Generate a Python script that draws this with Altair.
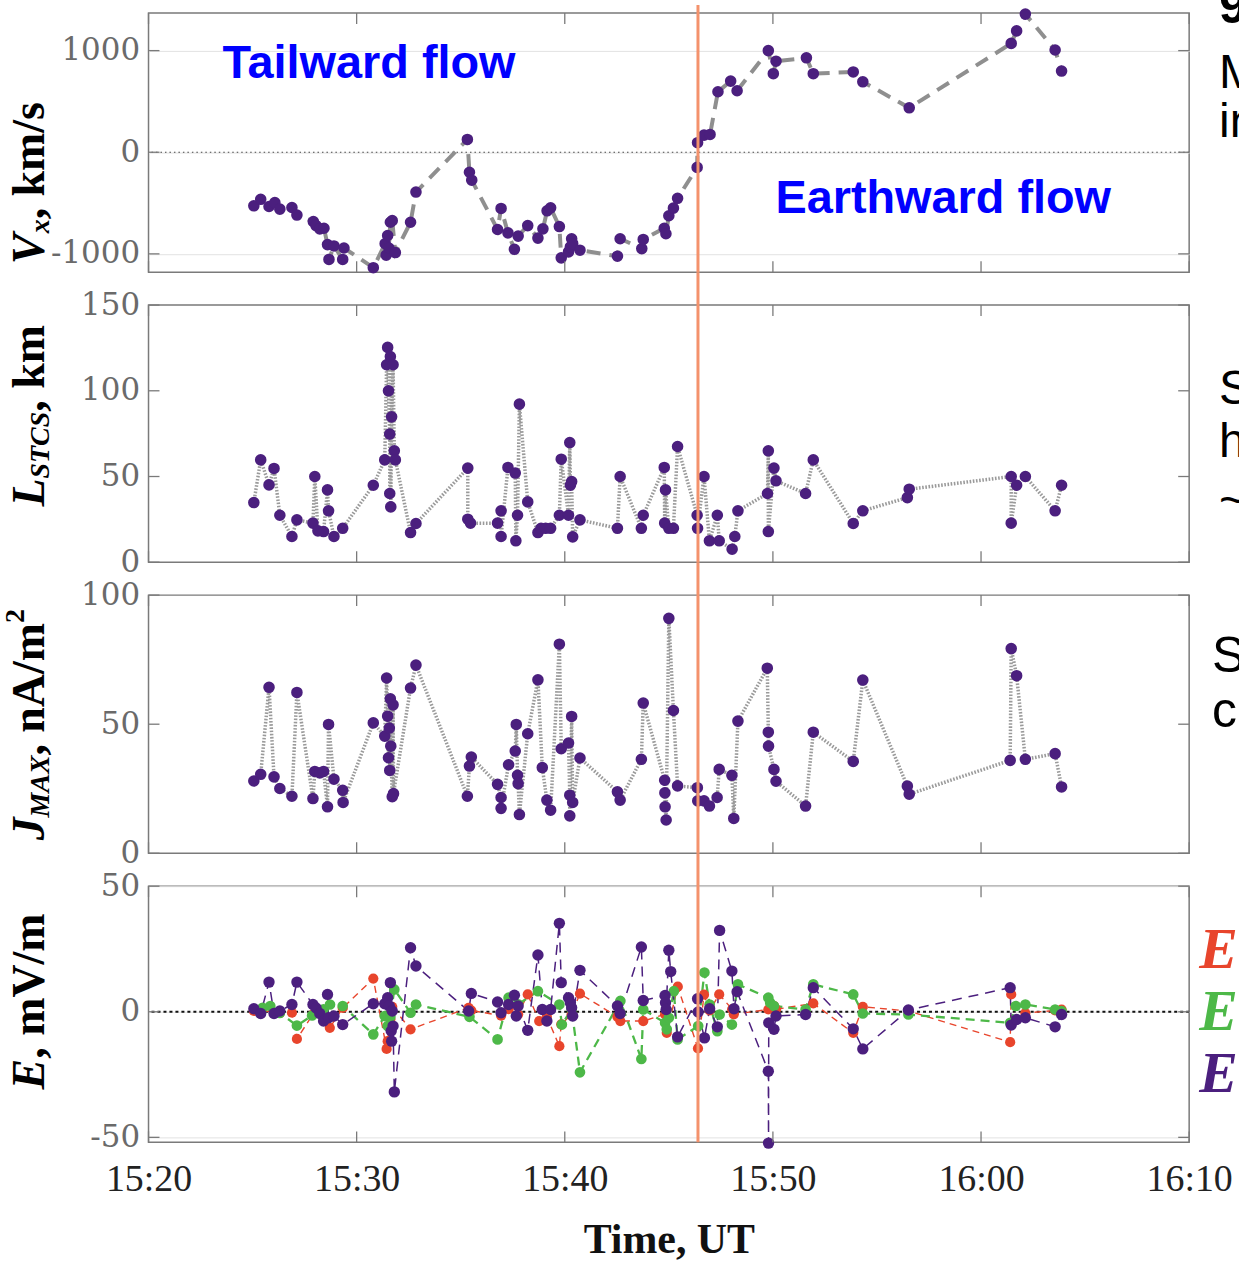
import altair as alt
import pandas as pd

# ---------------- data (time = minutes after 15:20 UT) ----------------
VX_T = [5.06,5.39,5.79,6.07,6.31,6.89,7.13,7.92,8.05,8.23,8.43,8.60,8.67,8.91,9.33,9.39,10.80,11.37,11.42,11.49,
        11.55,11.62,11.71,11.86,12.59,12.85,15.32,15.42,15.53,16.77,16.94,17.27,17.58,17.76,18.22,18.71,18.95,19.15,19.32,19.74,
        19.83,20.18,20.27,20.33,20.38,20.73,22.53,22.66,23.70,23.77,24.78,24.86,25.00,25.22,25.42,26.36,26.38,26.69,26.98,27.36,
        27.97,28.28,29.78,30.02,30.15,31.61,31.94,33.86,34.32,36.55,41.45,41.71,42.13,43.56,43.87]
VX_V = [-527,-463,-534,-495,-560,-544,-618,-683,-722,-754,-748,-909,-1055,-922,-1055,-942,-1136,-900,-1013,-819,
        -942,-689,-673,-987,-689,-392,126,-197,-275,-760,-553,-793,-955,-825,-722,-845,-754,-576,-547,-731,
        -1039,-981,-932,-851,-900,-964,-1023,-851,-948,-858,-748,-802,-625,-550,-453,-149,94,168,175,595,
        700,605,1000,773,896,929,773,790,693,437,1071,1194,1359,1006,799]

L_T = [5.06,5.39,5.79,6.03,6.31,6.89,7.13,7.90,7.99,8.14,8.41,8.60,8.65,8.91,9.33,10.80,11.35,11.44,11.49,11.53,
       11.59,11.59,11.62,11.64,11.68,11.75,11.81,11.86,12.59,12.85,15.34,15.34,15.47,16.77,16.94,16.94,17.27,17.62,17.65,17.73,
       17.82,18.22,18.71,18.86,19.08,19.32,19.74,19.83,20.18,20.24,20.27,20.33,20.38,20.73,22.53,22.66,23.68,23.77,24.78,24.80,
       24.84,25.00,25.22,25.42,26.36,26.38,26.69,26.95,27.33,27.42,28.04,28.17,28.32,29.74,29.78,29.78,30.05,30.15,31.57,31.94,
       33.86,34.32,36.46,36.55,41.45,41.45,41.71,42.13,43.56,43.87]
L_V = [34.8,59.7,45.1,54.7,27.4,15.0,24.7,22.8,50.0,18.3,17.9,42.2,30.0,15.0,19.8,44.9,59.7,115.2,125.3,100.0,
       74.7,40.1,120.0,32.3,84.8,115.2,65.0,59.7,17.3,22.6,54.9,25.1,22.8,22.8,30.0,15.0,55.3,52.0,12.5,27.4,
       92.2,35.2,17.3,19.8,19.8,19.8,27.4,60.1,27.4,69.8,44.9,47.1,14.8,24.7,19.8,50.0,19.8,27.4,55.3,22.8,
       42.2,19.8,19.8,67.5,27.4,19.8,50.0,12.5,27.4,12.5,7.6,15.0,30.0,40.1,65.0,17.9,54.9,47.5,40.1,59.7,
       22.6,30.0,37.7,42.6,50.0,22.8,44.9,50.0,30.0,44.9]

J_T = [5.06,5.39,5.79,6.03,6.31,6.89,7.13,7.90,7.99,8.23,8.41,8.60,8.65,8.91,9.33,9.35,10.80,11.35,11.44,11.49,
       11.53,11.57,11.59,11.62,11.64,11.71,11.75,11.77,12.59,12.85,15.32,15.42,15.51,16.77,16.94,16.94,17.30,17.62,17.67,17.73,
       17.76,17.82,18.22,18.71,18.92,19.14,19.32,19.74,19.83,20.18,20.24,20.24,20.33,20.38,20.73,22.53,22.66,23.68,23.77,24.80,
       24.81,24.82,24.87,25.00,25.22,25.42,26.37,26.39,26.69,26.95,27.32,27.42,28.03,28.12,28.32,29.73,29.78,29.79,30.05,30.15,
       31.57,31.94,33.86,34.32,36.46,36.55,41.40,41.45,41.71,42.13,43.56,43.87]
J_V = [28.0,30.6,64.3,29.6,25.1,22.1,62.3,21.2,31.7,31.1,31.7,18.0,49.9,28.7,24.4,19.7,50.5,45.4,67.9,53.1,
       37.0,48.5,32.1,59.8,41.5,21.9,57.5,23.1,64.0,72.9,22.1,33.8,37.3,26.7,21.6,17.4,34.3,39.6,49.9,30.2,
       27.0,15.0,46.3,67.2,33.2,20.6,16.7,81.0,40.5,42.7,22.5,14.5,53.0,19.7,36.9,23.8,20.6,36.4,58.2,28.3,
       23.4,18.0,12.9,91.0,55.3,26.1,25.4,20.3,20.3,18.3,21.6,32.5,30.2,13.5,51.2,71.7,46.9,41.5,32.5,27.9,
       18.3,46.9,35.6,67.1,26.0,22.9,36.0,79.3,68.8,36.4,38.6,25.7]

EX_T = [5.06,5.39,6.31,6.89,7.13,7.90,8.41,8.71,9.33,10.80,11.44,11.49,11.62,11.71,12.59,15.38,15.51,16.94,17.30,17.76,
        18.22,18.77,19.14,19.74,19.83,20.33,20.73,22.53,22.67,23.77,24.82,24.90,25.43,26.40,26.69,26.96,27.42,28.04,28.12,29.78,
        30.05,30.15,31.94,33.86,34.32,36.51,41.40,41.45,42.13,43.56,43.87]
EX_V = [0.3,0.5,-0.5,-0.4,-10.8,-1.0,-2.0,-6.4,1.5,13.2,-14.8,-11.7,-3.0,2.0,-7.0,1.6,0.5,-1.5,1.0,-1.0,
        6.9,-3.7,-2.0,-13.7,-5.0,-1.0,7.2,-2.0,-3.7,-3.7,-1.0,-8.4,10.0,-14.6,6.8,0.5,6.9,1.0,-1.0,0.9,
        2.3,1.0,3.3,-8.4,2.0,0.3,-12.1,6.9,-0.5,0.5,0.9]

EY_T = [5.48,5.85,6.31,7.13,7.86,8.41,8.72,9.33,10.80,11.35,11.49,11.62,11.81,12.59,12.85,15.42,16.77,17.30,17.76,18.71,
        19.74,19.86,20.33,20.73,22.67,23.68,23.77,24.82,24.90,25.00,25.24,25.42,26.41,26.71,26.96,27.33,27.44,28.03,28.32,29.78,
        29.87,30.05,31.57,31.94,33.86,34.32,36.51,41.40,41.67,42.13,43.56,43.87]
EY_V = [1.6,2.3,-0.5,-5.5,-1.5,1.0,2.9,2.3,-9.0,-1.7,-5.7,-2.0,8.9,-0.4,2.9,-2.0,-11.0,5.6,3.0,8.2,
        2.9,-5.1,1.0,-24.1,4.3,-18.8,0.9,-4.4,-7.0,-2.4,8.2,-11.0,-5.7,15.6,2.9,-7.7,-1.1,-5.1,10.9,5.6,
        3.6,2.3,0.9,10.9,6.9,-0.7,-1.1,-4.4,2.3,2.9,0.9,0.3]

EZ_T = [5.06,5.39,5.79,6.03,6.31,6.89,7.13,7.90,8.05,8.23,8.41,8.60,8.65,8.91,9.33,10.80,11.35,11.49,11.57,11.62,
        11.66,11.68,11.71,11.75,11.81,12.59,12.85,15.38,15.51,16.77,16.94,17.30,17.58,17.67,17.76,18.22,18.71,18.92,19.14,19.32,
        19.74,19.83,20.18,20.27,20.33,20.38,20.73,22.53,22.66,23.68,23.77,24.82,24.84,24.87,25.00,25.09,25.42,26.38,26.41,26.71,
        26.96,27.33,27.44,28.03,28.13,28.28,29.78,29.79,29.80,30.05,30.15,31.57,31.94,33.86,34.32,36.51,41.40,41.45,41.71,42.13,
        43.56,43.87]
EZ_V = [1.2,-0.7,11.8,-0.7,0.3,2.9,11.8,2.9,1.5,-0.7,-3.7,6.9,-2.4,-1.7,-5.1,3.2,3.2,5.6,2.3,11.6,
        -7.7,-11.7,0.3,-5.7,-31.9,25.5,18.2,0.3,7.3,3.9,-0.4,2.9,6.6,-1.7,2.3,-7.4,22.6,0.9,-3.7,0.9,
        35.2,11.6,5.6,3.6,1.6,-1.7,16.5,2.3,-0.7,25.8,4.5,6.5,3.6,0.9,24.5,16.0,-10.0,5.2,-0.1,-10.4,
        1.2,-6.0,32.4,16.2,1.2,8.0,-23.7,-52.3,-4.4,-7.0,-1.7,-1.1,9.6,-6.8,-14.8,0.7,9.6,-5.3,-3.1,-2.4,
        -6.0,-1.1]

EVENT_T = [26.4]
X_TICKS = [0, 10, 20, 30, 40, 50]
X_LABELS = ['15:20', '15:30', '15:40', '15:50', '16:00', '16:10']
VX_TICKS = [-1000, 0, 1000]
L_TICKS = [0, 50, 100, 150]
J_TICKS = [0, 50, 100]
E_TICKS = [-50, 0, 50]

ANNOT = ['Tailward flow', 'Earthward flow']
ANNOT_T = [3.55, 30.12]
ANNOT_V = [729, -601]

VX_TITLE = ['V', 'x', ', km/s']
L_TITLE = ['L', 'STCS', ', km']
J_TITLE = ['J', 'MAX', ', nA/m', '2']
E_TITLE = ['E', ', mV/m']
X_TITLE = 'Time, UT'
SIDE_TOP = ['9', 'M', 'in']
SIDE_L = ['S', 'h', '~']
SIDE_J = ['S', 'c']
SIDE_E = ['E', 'E', 'E']

# ---------------- styling ----------------
PURPLE = '#4b1f7e'
RED = '#e8452c'
GREEN = '#4db848'
ORANGE = '#f4926c'
FRAME = '#7a7a7a'
W = 1044
H1, H2, H3, H4 = 260, 258, 259, 257
XS = alt.Scale(domain=[0, 50], nice=False, zero=False)
labels_js = '[' + ','.join("'%s'" % s for s in X_LABELS) + ']'

X_AXIS_BOTTOM = alt.Axis(values=X_TICKS, labelExpr=labels_js + '[round(datum.value/10)]', ticks=False, domain=False,
                         grid=False, labelFont='Liberation Serif', labelFontSize=38, labelColor='#222',
                         labelPadding=18, labelFlush=False, labelOverlap=False,
                         title=X_TITLE, titleFont='Liberation Serif', titleFontSize=42, titleFontWeight='bold',
                         titleColor='#111', titlePadding=22)


def yaxis(vals, grid):
    return alt.Axis(values=vals, title=None, ticks=False, domain=False, grid=grid, gridColor='#e2e2e2',
                    gridWidth=1, labelFont='DejaVu Serif', labelFontSize=31, labelColor='#6a6a6a',
                    labelPadding=9, labelFlush=False, labelOverlap=False,
                    labelExpr="(datum.value < 0 ? '-' : '') + abs(datum.value)")


def txt(s, x, y, size, font='Liberation Serif', weight='bold', style='normal', color='black', angle=0):
    return alt.Chart(pd.DataFrame({'s': [s]})).mark_text(
        font=font, fontSize=size, fontWeight=weight, fontStyle=style, color=color, angle=angle,
        align='left', baseline='alphabetic').encode(text='s:N', x=alt.value(x), y=alt.value(y))


def frame_layers(H, YX, YY, yticks):
    L = 11
    xt = pd.DataFrame({'t': X_TICKS})
    yt = pd.DataFrame({'v': yticks})
    out = []
    for (a, b) in [(0, L), (H - L, H)]:
        out.append(alt.Chart(xt).mark_rule(color=FRAME, strokeWidth=1.3).encode(
            x=YX('t'), y=alt.value(a), y2=alt.value(b)))
    for (a, b) in [(0, L), (W - L, W)]:
        out.append(alt.Chart(yt).mark_rule(color=FRAME, strokeWidth=1.3).encode(
            y=YY('v'), x=alt.value(a), x2=alt.value(b)))
    return out


def make_panel(H, ydom, yticks, grid, xaxis, series, extra, orange_top, zero_style):
    YS = alt.Scale(domain=ydom, nice=False, zero=False)
    YA = yaxis(yticks, grid)
    XE = lambda f: alt.X(f + ':Q', scale=XS, axis=xaxis)
    YE = lambda f: alt.Y(f + ':Q', scale=YS, axis=YA)
    layers = []
    if zero_style is not None:
        layers.append(alt.Chart(pd.DataFrame({'v': [0]})).mark_rule(**zero_style).encode(y=YE('v')))
    for (t, v, lstyle, color, size) in series:
        df = pd.DataFrame({'t': t, 'v': v, 'i': list(range(len(t)))})
        layers.append(alt.Chart(df).mark_line(**lstyle).encode(x=XE('t'), y=YE('v'), order='i:Q'))
    for (t, v, lstyle, color, size) in series:
        df = pd.DataFrame({'t': t, 'v': v})
        layers.append(alt.Chart(df).mark_circle(color=color, size=size, opacity=1).encode(x=XE('t'), y=YE('v')))
    for e in extra.get('data_text', []):
        layers.append(e(XE, YE))
    layers.append(alt.Chart(pd.DataFrame({'t': EVENT_T})).mark_rule(color=ORANGE, strokeWidth=3).encode(
        x=XE('t'), y=alt.value(orange_top), y2=alt.value(H)))
    layers += frame_layers(H, XE, YE, yticks)
    layers += extra.get('px_text', [])
    return alt.layer(*layers).properties(width=W, height=H)


TB = -105      # rotated title baseline (px from plot left)
SUB = 5        # subscript shift
TS, SS = 46, 28

# ---- panel 1: Vx
def annot(XE, YE):
    df = pd.DataFrame({'t': ANNOT_T, 'v': ANNOT_V, 's': ANNOT})
    return alt.Chart(df).mark_text(align='left', baseline='alphabetic', font='Liberation Sans',
                                   fontWeight='bold', fontSize=47, color='#0000ff').encode(
        x=XE('t'), y=YE('v'), text='s:N')

p1_text = [
    txt(VX_TITLE[0], TB, 252, TS, style='italic', angle=270),
    txt(VX_TITLE[1], TB + SUB, 221, SS, style='italic', angle=270),
    txt(VX_TITLE[2], TB, 207, TS, angle=270),
    txt(SIDE_TOP[0], 1074, 10, 50, font='Liberation Sans'),
    txt(SIDE_TOP[1], 1074, 75, 48, font='Liberation Sans', weight='normal'),
    txt(SIDE_TOP[2], 1074, 124, 48, font='Liberation Sans', weight='normal'),
]
p1 = make_panel(H1, [-1180, 1370], VX_TICKS, True, None,
                [(VX_T, VX_V, dict(color='#8f8f8f', strokeWidth=4, strokeDash=[14, 9]), PURPLE, 135)],
                {'data_text': [annot], 'px_text': p1_text}, -8,
                dict(color='#444', strokeWidth=1.2, strokeDash=[1.5, 3]))

# ---- panel 2: L_STCS
p2_text = [
    txt(L_TITLE[0], TB, 202, TS, style='italic', angle=270),
    txt(L_TITLE[1], TB + SUB, 174, SS, style='italic', angle=270),
    txt(L_TITLE[2], TB, 107, TS, angle=270),
    txt(SIDE_L[0], 1074, 99, 48, font='Liberation Sans', weight='normal'),
    txt(SIDE_L[1], 1074, 152, 48, font='Liberation Sans', weight='normal'),
    txt(SIDE_L[2], 1074, 212, 48, font='Liberation Sans', weight='normal'),
]
p2 = make_panel(H2, [0, 150], L_TICKS, False, None,
                [(L_T, L_V, dict(color='#9a9a9a', strokeWidth=3.5, strokeDash=[1.6, 1.6]), PURPLE, 135)],
                {'px_text': p2_text}, -33, None)

# ---- panel 3: J_MAX
p3_text = [
    txt(J_TITLE[0], TB, 246, TS, style='italic', angle=270),
    txt(J_TITLE[1], TB + SUB, 223, SS, style='italic', angle=270),
    txt(J_TITLE[2], TB, 161, TS, angle=270),
    txt(J_TITLE[3], TB - 20, 28, SS, angle=270),
    txt(SIDE_J[0], 1067, 77, 50, font='Liberation Sans', weight='normal'),
    txt(SIDE_J[1], 1067, 132, 50, font='Liberation Sans', weight='normal'),
]
p3 = make_panel(H3, [0, 100], J_TICKS, False, None,
                [(J_T, J_V, dict(color='#9a9a9a', strokeWidth=3.5, strokeDash=[1.6, 1.6]), PURPLE, 135)],
                {'px_text': p3_text}, -33, None)

# ---- panel 4: E
p4_text = [
    txt(E_TITLE[0], TB, 204, TS, style='italic', angle=270),
    txt(E_TITLE[1], TB, 173, TS, angle=270),
    txt(SIDE_E[0], 1054, 82, 58, style='italic', color=RED),
    txt(SIDE_E[1], 1054, 144, 58, style='italic', color=GREEN),
    txt(SIDE_E[2], 1054, 206, 58, style='italic', color=PURPLE),
]
p4 = make_panel(H4, [-52, 50], E_TICKS, True, X_AXIS_BOTTOM,
                [(EX_T, EX_V, dict(color=RED, strokeWidth=1.4, strokeDash=[7, 5]), RED, 105),
                 (EY_T, EY_V, dict(color=GREEN, strokeWidth=2.3, strokeDash=[9, 6]), GREEN, 115),
                 (EZ_T, EZ_V, dict(color=PURPLE, strokeWidth=1.5, strokeDash=[10, 7]), PURPLE, 130)],
                {'px_text': p4_text}, -33,
                dict(color='#111', strokeWidth=2, strokeDash=[3, 3]))

chart = alt.vconcat(p1, p2, p3, p4, spacing=33, bounds='flush').resolve_scale(
    y='independent').configure_view(stroke=FRAME, strokeWidth=1.5).properties(
    padding={'left': 1, 'top': -20, 'right': -21, 'bottom': 3}, background='white')

chart.save('out.html', embed_options={'renderer': 'svg', 'actions': False})
